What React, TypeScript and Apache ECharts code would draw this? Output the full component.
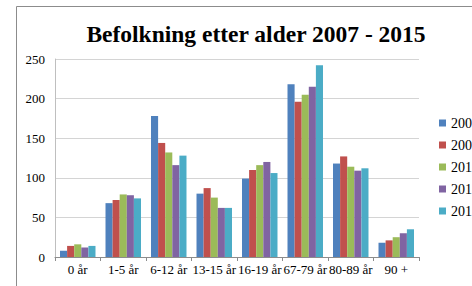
import React, { useEffect, useRef } from "react";
import * as echarts from "echarts";

const categories = ["0 år", "1-5 år", "6-12 år", "13-15 år", "16-19 år", "67-79 år", "80-89 år", "90 +"];
const seriesNames = ["2007", "2009", "2011", "2013", "2015"];
const v2007 = [8, 68, 178, 80, 99, 218, 118, 18];
const v2009 = [14, 72, 144, 87, 110, 196, 127, 21];
const v2011 = [16, 79, 132, 75, 116, 205, 114, 25];
const v2013 = [12, 78, 116, 62, 120, 215, 109, 30];
const v2015 = [14, 74, 128, 62, 106, 242, 112, 35];
const seriesValues = [v2007, v2009, v2011, v2013, v2015];
const colors = ["#4F81BD", "#C0504D", "#9BBB59", "#8064A2", "#4BACC6"];
const yTicks = [0, 50, 100, 150, 200, 250];

export default function App() {
  const ref = useRef<HTMLDivElement>(null);
  useEffect(() => {
    document.body.style.margin = "0";
    const chart = echarts.init(ref.current!, undefined, { renderer: "svg" });
    const font = "Liberation Serif, serif";
    chart.setOption({
      animation: false,
      backgroundColor: "#ffffff",
      textStyle: { fontFamily: font },
      title: {
        text: "Befolkning etter alder 2007 - 2015",
        left: 251,
        textAlign: "center",
        top: 17,
        textStyle: { fontFamily: font, fontSize: 23.5, fontWeight: "bold", color: "#000" },
      },
      graphic: [
        {
          type: "rect",
          shape: { x: 16.5, y: 6.5, width: 520, height: 320 },
          style: { fill: "none", stroke: "#8c8c8c", lineWidth: 1 },
          silent: true,
        },
      ],
      legend: {
        orient: "vertical",
        left: 434,
        top: 111,
        itemWidth: 7,
        itemHeight: 7,
        itemGap: 8,
        icon: "rect",
        data: seriesNames,
        textStyle: { fontFamily: font, fontSize: 14, color: "#000" },
      },
      grid: { left: 55, right: 53, top: 59, bottom: 29 },
      xAxis: {
        type: "category",
        data: categories,
        axisLine: { lineStyle: { color: "#8c8c8c" } },
        axisTick: { show: true, alignWithLabel: false, length: 4, lineStyle: { color: "#8c8c8c" } },
        axisLabel: { fontFamily: font, fontSize: 13, color: "#000", margin: 6, interval: 0 },
      },
      yAxis: {
        type: "value",
        min: yTicks[0],
        max: yTicks[yTicks.length - 1],
        interval: 50,
        axisLine: { show: true, lineStyle: { color: "#bfbfbf" } },
        axisTick: { show: false },
        splitLine: { lineStyle: { color: "#d4d4d4" } },
        axisLabel: { fontFamily: font, fontSize: 13, color: "#000", margin: 10 },
      },
      series: seriesNames.map((name, i) => ({
        name,
        type: "bar",
        data: seriesValues[i],
        itemStyle: { color: colors[i] },
        barGap: "0%",
        barCategoryGap: "22%",
      })),
    });
    return () => chart.dispose();
  }, []);
  return <div ref={ref} style={{ width: 472, height: 286, overflow: "hidden" }} />;
}
